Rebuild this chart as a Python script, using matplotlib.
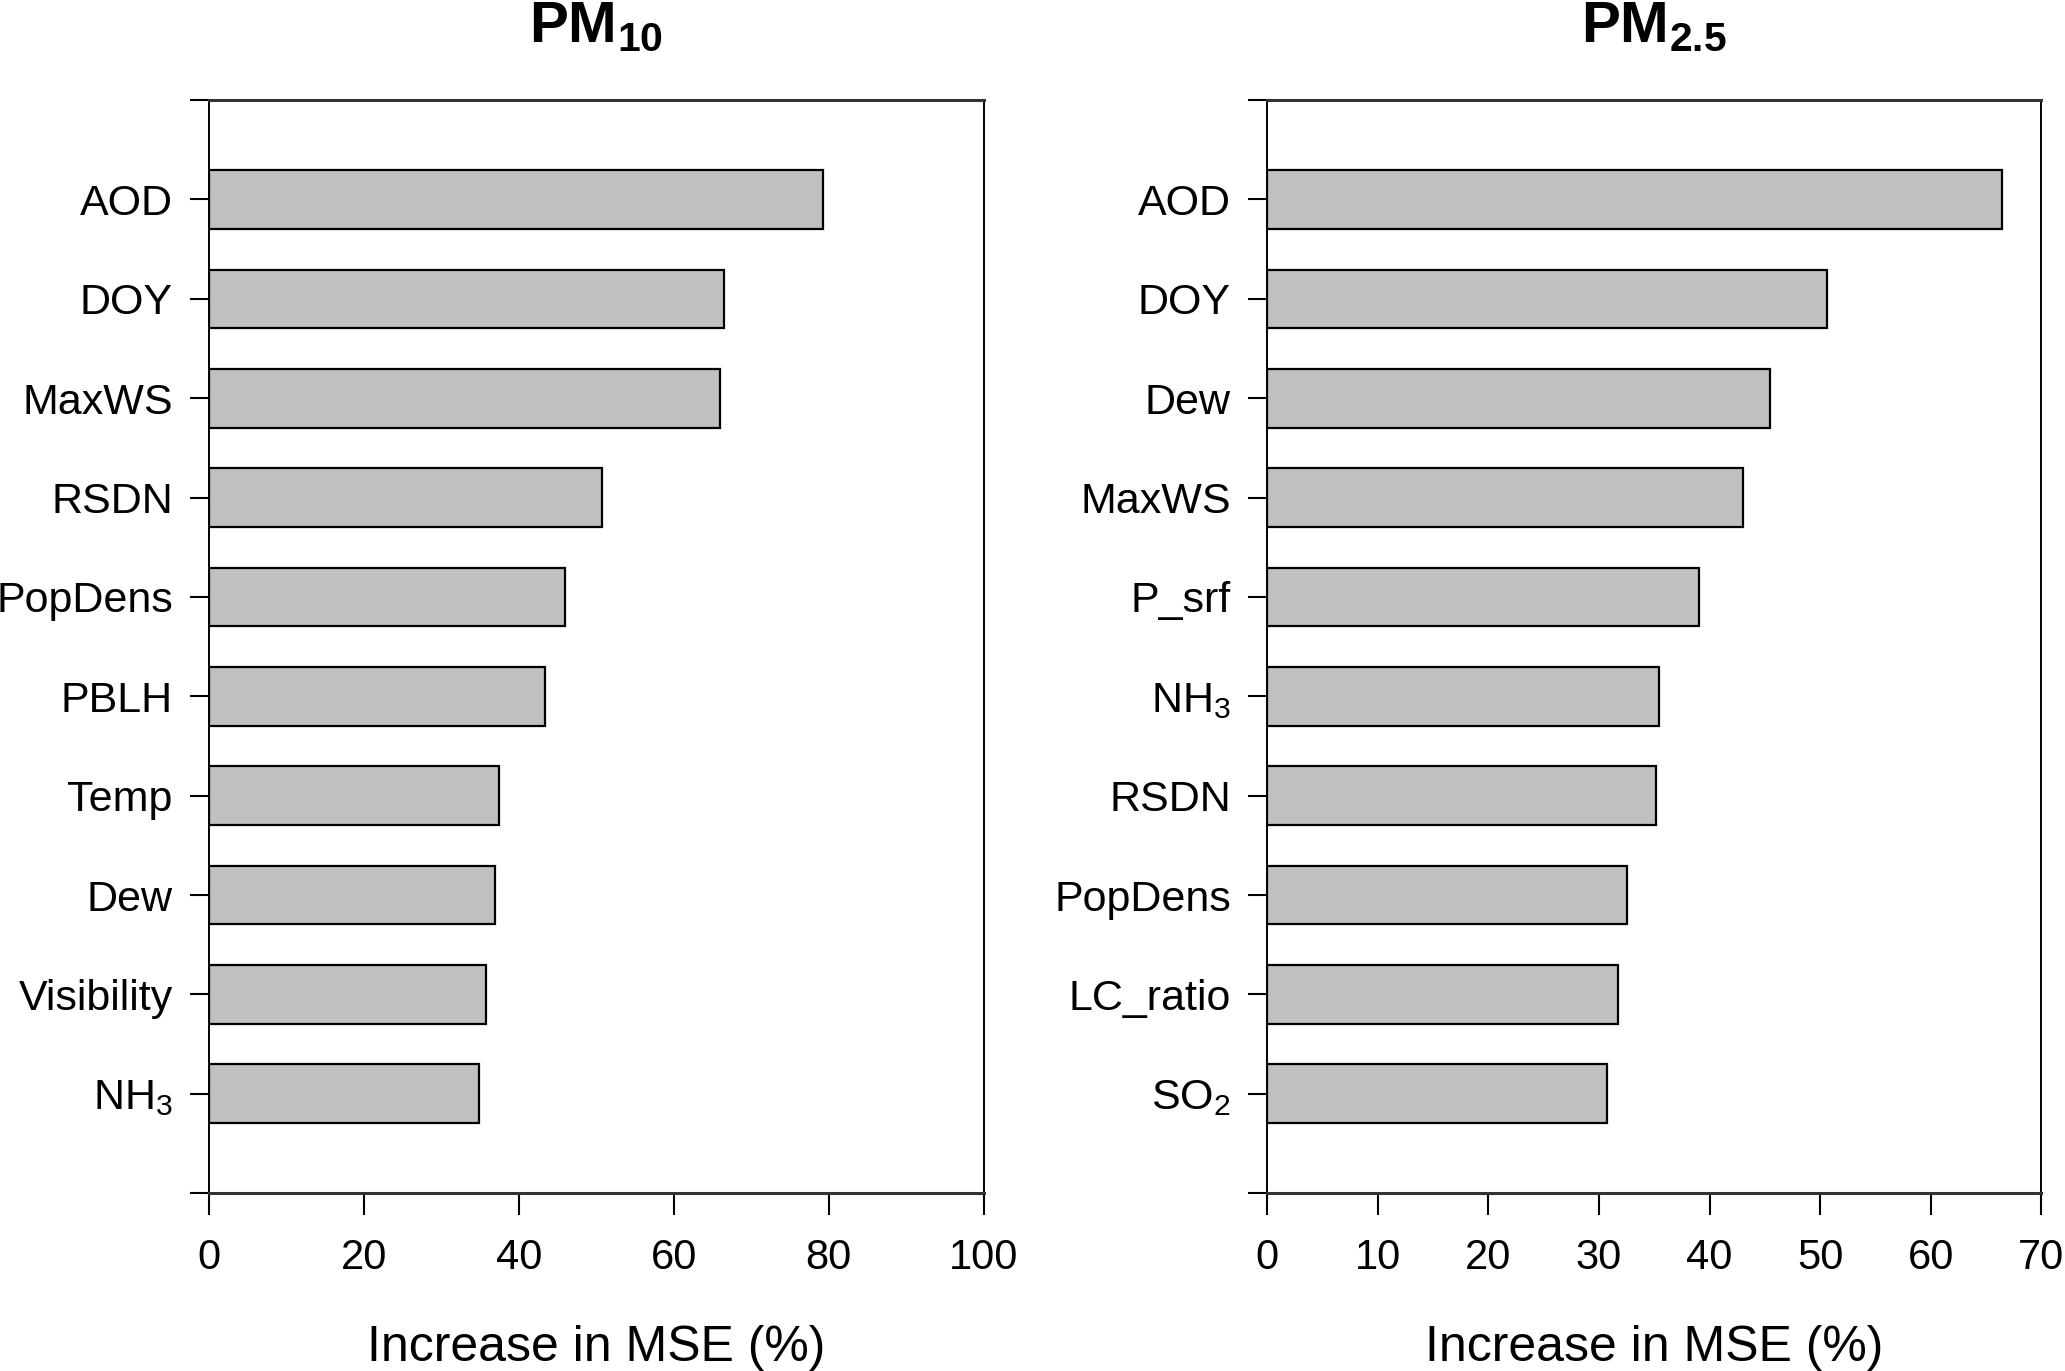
import numpy as np
import matplotlib
matplotlib.use("Agg")
import matplotlib.pyplot as plt

plt.rcParams['font.family'] = ['Liberation Sans', 'DejaVu Sans']
plt.rcParams['mathtext.fontset'] = 'custom'
plt.rcParams['mathtext.rm'] = 'Liberation Sans'
plt.rcParams['mathtext.it'] = 'Liberation Sans:italic'
plt.rcParams['mathtext.bf'] = 'Liberation Sans:bold'

# Variable importance, top to bottom
pm10_vars = ['AOD', 'DOY', 'MaxWS', 'RSDN', 'PopDens', 'PBLH', 'Temp', 'Dew',
             'Visibility', r'NH$_3$']
pm10_vals = [79.3, 66.5, 66.0, 50.7, 45.9, 43.4, 37.4, 36.9, 35.7, 34.9]

pm25_vars = ['AOD', 'DOY', 'Dew', 'MaxWS', 'P_srf', r'NH$_3$', 'RSDN', 'PopDens',
             'LC_ratio', r'SO$_2$']
pm25_vals = [66.4, 50.6, 45.5, 43.0, 39.0, 35.4, 35.2, 32.5, 31.7, 30.7]

pm10_ticks = [0, 20, 40, 60, 80, 100]
pm25_ticks = [0, 10, 20, 30, 40, 50, 60, 70]

fig = plt.figure(figsize=(20.65, 13.71), dpi=100)
ax1 = fig.add_axes([0.1012, 0.1297, 0.3752, 0.7973])
ax2 = fig.add_axes([0.6136, 0.1297, 0.3750, 0.7973])


def draw_panel(ax, names, vals, xticks, title):
    n = len(names)
    ypos = np.arange(n, 0, -1)
    ax.barh(ypos, vals, height=0.59, color='#c0c0c0', edgecolor='black',
            linewidth=1.6)
    ax.set_ylim(0, n + 1)
    ax.set_xlim(xticks[0], xticks[-1])
    ax.set_yticks(list(range(0, n + 2)))
    labels = [''] * (n + 2)
    for p, nm in zip(ypos, names):
        labels[p] = nm
    ax.set_yticklabels(labels, fontsize=31)
    ax.set_xticks(xticks)
    ax.set_xticklabels([str(t) for t in xticks], fontsize=30)
    ax.tick_params(axis='y', direction='out', length=14, width=1.5, pad=12)
    ax.tick_params(axis='x', direction='out', length=16, width=1.5, pad=16)
    for side in ['left', 'right']:
        ax.spines[side].set_linewidth(1.4)
        ax.spines[side].set_color('black')
    for side in ['top', 'bottom']:
        ax.spines[side].set_linewidth(2.2)
        ax.spines[side].set_color('#333333')
    ax.set_xlabel('Increase in MSE (%)', fontsize=36, labelpad=34)
    ax.set_title(title, fontsize=42, pad=42)


draw_panel(ax1, pm10_vars, pm10_vals, pm10_ticks, r'$\mathbf{PM_{10}}$')
draw_panel(ax2, pm25_vars, pm25_vals, pm25_ticks, r'$\mathbf{PM_{2.5}}$')

fig.savefig('out.png', dpi=100)
